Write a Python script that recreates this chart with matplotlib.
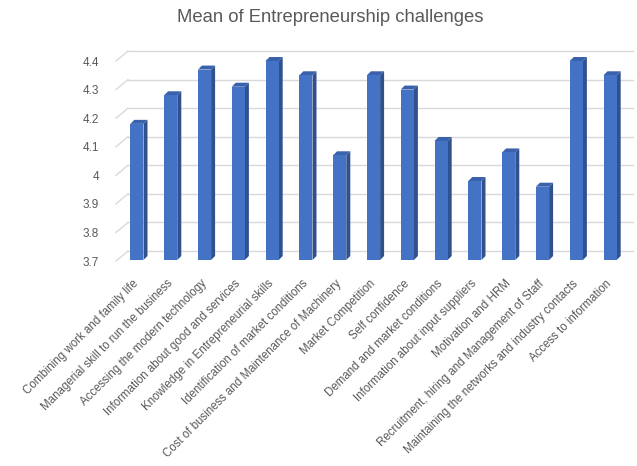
import matplotlib
matplotlib.use("Agg")
import matplotlib.pyplot as plt
from matplotlib.patches import Polygon
import numpy as np

plt.rcParams['font.family'] = ['Liberation Sans', 'DejaVu Sans']

categories = [
    "Combining work and family life",
    "Managerial skill to run the business",
    "Accessing the modern technology",
    "Information about good and services",
    "Knowledge in Entrepreneurial skills",
    "Identification of market conditions",
    "Cost of business and Maintenance of Machinery",
    "Market Competition",
    "Self confidence",
    "Demand and market conditions",
    "Information about input suppliers",
    "Motivation and HRM",
    "Recruitment, hiring and Management of Staff",
    "Maintaining the networks and industry contacts",
    "Access to information",
]
means = [4.18, 4.28, 4.37, 4.31, 4.40, 4.35, 4.07, 4.35, 4.30, 4.12,
         3.98, 4.08, 3.96, 4.40, 4.35]
yticks = [3.7, 3.8, 3.9, 4.0, 4.1, 4.2, 4.3, 4.4]
ytick_labels = ["3.7", "3.8", "3.9", "4", "4.1", "4.2", "4.3", "4.4"]

grey = "#595959"
front_c = "#4472C4"
side_c = "#2F528F"
top_c = "#3A62AC"

fig = plt.figure(figsize=(6.37, 4.66), dpi=100)
# front plane of the 3d box
ax = fig.add_axes([120 / 637, 1 - 261 / 466, 507 / 637, 200 / 466])
ymin, ymax = 3.7, 4.4
ax.set_xlim(-0.5, len(means) - 0.5)
ax.set_ylim(ymin, ymax)

# pixel -> data conversions
px_x = len(means) / 507
px_y = (ymax - ymin) / 200

# back wall gridlines with a short slanted floor segment at left
for v in yticks:
    ax.plot([-0.5 - 4 * px_x, -0.5 + 8 * px_x], [v, v + 10 * px_y],
            color="#D9D9D9", lw=1, clip_on=False, zorder=0)
    ax.plot([-0.5 + 8 * px_x, len(means) - 0.5 + 6 * px_x],
            [v + 10 * px_y, v + 10 * px_y],
            color="#D9D9D9", lw=1, clip_on=False, zorder=0)

x = np.arange(len(means))
w = 0.39
dx = 4 * px_x
dy = 4 * px_y
bottom = ymin + 1 * px_y
for xi, v in zip(x, means):
    xl, xr = xi - w / 2, xi + w / 2
    ax.add_patch(Polygon([(xr, bottom), (xr + dx, bottom + dy),
                          (xr + dx, v + dy), (xr, v)],
                         closed=True, facecolor=side_c, edgecolor="none",
                         zorder=2, clip_on=False))
    ax.add_patch(Polygon([(xl, v), (xr, v), (xr + dx, v + dy),
                          (xl + dx, v + dy)],
                         closed=True, facecolor=top_c, edgecolor="none",
                         zorder=2, clip_on=False))
ax.bar(x, [m - bottom for m in means], bottom=bottom, width=w,
       color=front_c, zorder=3, clip_on=False)

for s in ax.spines.values():
    s.set_visible(False)
ax.set_yticks(yticks)
ax.set_yticklabels(ytick_labels, color=grey, fontsize=8.5)
ax.tick_params(axis="y", length=0, pad=15)
ax.set_xticks(x)
ax.set_xticklabels(categories, rotation=45, ha="right", va="center",
                   rotation_mode="anchor", color=grey, fontsize=8.3)
ax.tick_params(axis="x", length=0, pad=15)

fig.text(330 / 637, 1 - 17 / 466, "Mean of Entrepreneurship challenges",
         ha="center", va="center", color=grey, fontsize=13.3)

fig.savefig("out.png", dpi=100)
